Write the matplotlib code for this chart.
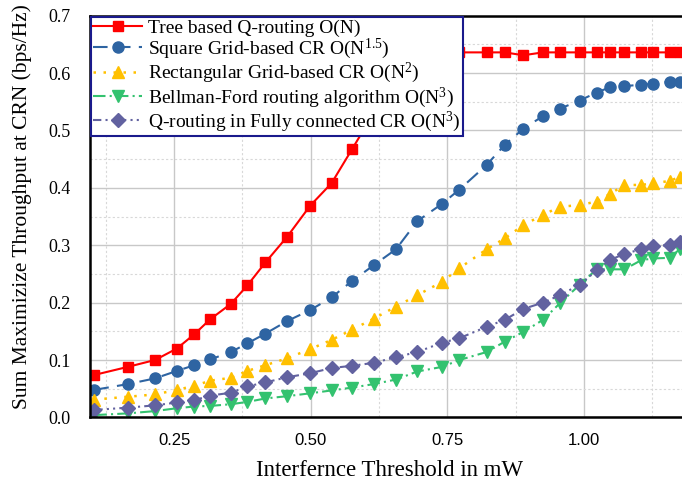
import matplotlib
import matplotlib.pyplot as plt
from matplotlib.ticker import MultipleLocator

matplotlib.use('agg')

plt.rcParams['font.family'] = 'Liberation Serif'
plt.rcParams['mathtext.fontset'] = 'custom'
plt.rcParams['mathtext.rm'] = 'Liberation Serif'
plt.rcParams['mathtext.it'] = 'Liberation Serif:italic'

threshold = [0.104, 0.165, 0.215, 0.255, 0.287, 0.316, 0.354, 0.384, 0.417, 0.457,
             0.499, 0.538, 0.576, 0.615, 0.656, 0.695, 0.740, 0.772, 0.822, 0.855,
             0.889, 0.925, 0.956, 0.992, 1.023, 1.047, 1.074, 1.105, 1.127, 1.157, 1.175]

tree_q = [0.074, 0.088, 0.100, 0.120, 0.145, 0.171, 0.198, 0.230, 0.270, 0.315,
          0.369, 0.408, 0.468, 0.530, 0.590, 0.625, 0.636, 0.636, 0.636, 0.636,
          0.631, 0.636, 0.636, 0.636, 0.636, 0.636, 0.636, 0.636, 0.636, 0.636, 0.636]
square_grid = [0.048, 0.058, 0.068, 0.081, 0.091, 0.101, 0.114, 0.129, 0.146, 0.168,
               0.187, 0.209, 0.238, 0.265, 0.293, 0.342, 0.372, 0.397, 0.440, 0.475,
               0.503, 0.525, 0.538, 0.552, 0.566, 0.575, 0.577, 0.580, 0.581, 0.585, 0.585]
rect_grid = [0.031, 0.036, 0.040, 0.048, 0.055, 0.064, 0.069, 0.081, 0.091, 0.103,
             0.119, 0.135, 0.153, 0.172, 0.193, 0.213, 0.236, 0.260, 0.293, 0.312,
             0.335, 0.353, 0.367, 0.370, 0.376, 0.389, 0.405, 0.405, 0.408, 0.412, 0.419]
bellman = [0.004, 0.007, 0.011, 0.016, 0.019, 0.020, 0.023, 0.027, 0.033, 0.037,
           0.042, 0.047, 0.052, 0.058, 0.066, 0.080, 0.088, 0.100, 0.114, 0.132,
           0.149, 0.170, 0.199, 0.231, 0.258, 0.258, 0.258, 0.274, 0.277, 0.278, 0.293]
full_q = [0.013, 0.017, 0.021, 0.026, 0.030, 0.038, 0.043, 0.054, 0.061, 0.070,
          0.077, 0.086, 0.090, 0.095, 0.105, 0.114, 0.130, 0.138, 0.158, 0.170,
          0.189, 0.200, 0.213, 0.231, 0.256, 0.274, 0.285, 0.293, 0.299, 0.300, 0.306]

labels = ['Tree based Q-routing O(N)',
          r'Square Grid-based CR O(N$^{1.5}$)',
          r'Rectangular Grid-based CR O(N$^{2}$)',
          r'Bellman-Ford routing algorithm O(N$^{3}$)',
          r'Q-routing in Fully connected CR O(N$^{3}$)']

px = 1 / 100
fig = plt.figure(figsize=(682 * px, 480 * px), dpi=100, facecolor='white')
ax = fig.add_axes([90 / 682, 0.1304, 600 / 682, 0.837])

ax.plot(threshold, tree_q, color='#ff0000', linestyle='-', lw=1.5,
        marker='s', ms=7, label=labels[0])
ax.plot(threshold, square_grid, color='#2e64a2', linestyle=(0, (7, 4)), lw=1.5,
        marker='o', ms=8, label=labels[1])
ax.plot(threshold, rect_grid, color='#ffc000', linestyle=(0, (1, 3)), lw=1.8,
        marker='^', ms=9, label=labels[2])
ax.plot(threshold, bellman, color='#33c26f', linestyle=(0, (6, 2, 1, 2)), lw=1.5,
        marker='v', ms=9, label=labels[3])
ax.plot(threshold, full_q, color='#6262a0', linestyle=(0, (4, 2, 1, 2, 1, 2)), lw=1.5,
        marker='D', ms=7, label=labels[4])

ax.set_xlim(0.096, 1.194)
ax.set_ylim(0, 0.7)
ax.xaxis.set_major_locator(MultipleLocator(0.25))
ax.xaxis.set_minor_locator(MultipleLocator(0.125))
ax.yaxis.set_major_locator(MultipleLocator(0.1))
ax.yaxis.set_minor_locator(MultipleLocator(0.05))
ax.set_xticks([0.25, 0.5, 0.75, 1.0])
ax.set_xticklabels(['0.25', '0.50', '0.75', '1.00'], family='Liberation Sans', fontsize=12)
ax.set_yticks([0.0, 0.1, 0.2, 0.3, 0.4, 0.5, 0.6, 0.7])
ax.set_yticklabels(['0.0', '0.1', '0.2', '0.3', '0.4', '0.5', '0.6', '0.7'], fontsize=13)
ax.tick_params(which='both', length=0)
ax.tick_params(axis='x', pad=11)
ax.tick_params(axis='y', pad=14)

ax.grid(which='major', color='#c8c8c8', lw=1.0)
ax.grid(which='minor', color='#d8d8d8', lw=0.8, linestyle=(0, (2, 2)))
ax.set_axisbelow(True)

for side in ['left', 'bottom', 'top']:
    ax.spines[side].set_color('black')
    ax.spines[side].set_linewidth(1.8)
ax.spines['right'].set_visible(False)

ax.set_xlabel('Interfernce Threshold in mW', fontsize=16.5, labelpad=9)
ax.set_ylabel('Sum Maximizize Throughput at CRN (bps/Hz)', fontsize=15.5)
ax.yaxis.set_label_coords(-0.097, 0.524)

leg = ax.legend(loc='upper left', fontsize=14, frameon=True, fancybox=False,
                borderaxespad=0.05, borderpad=0.12, labelspacing=0.0,
                handlelength=2.5, handletextpad=0.3)
leg.get_frame().set_edgecolor('#1a1a8c')
leg.get_frame().set_linewidth(1.5)
leg.get_frame().set_alpha(1)

plt.savefig('out.png', dpi=100)
